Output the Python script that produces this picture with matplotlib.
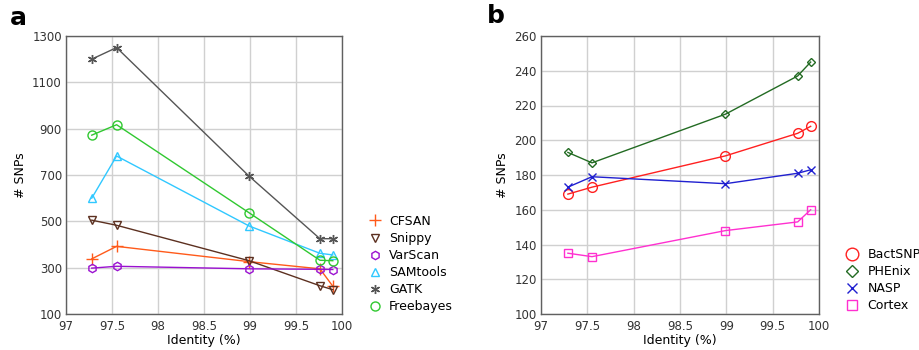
import matplotlib.pyplot as plt

identity_a = [97.28, 97.55, 98.99, 99.76, 99.90]
identity_b = [97.29, 97.55, 98.99, 99.77, 99.91]

cfsan = [338, 392, 326, 295, 220]
snippy = [505, 483, 330, 222, 205]
varscan = [298, 306, 295, 293, 292]
samtools = [600, 782, 480, 362, 355]
gatk = [1200, 1250, 695, 425, 425]
freebayes = [872, 917, 537, 332, 330]

bactsnp = [169, 173, 191, 204, 208]
phenix = [193, 187, 215, 237, 245]
nasp = [173, 179, 175, 181, 183]
cortex = [135, 133, 148, 153, 160]

names_a = ['CFSAN', 'Snippy', 'VarScan', 'SAMtools', 'GATK', 'Freebayes']
names_b = ['BactSNP', 'PHEnix', 'NASP', 'Cortex']

x_ticks = [97, 97.5, 98, 98.5, 99, 99.5, 100]
x_tick_labels = ['97', '97.5', '98', '98.5', '99', '99.5', '100']
y_ticks_a = [100, 300, 500, 700, 900, 1100, 1300]
y_ticks_b = [100, 120, 140, 160, 180, 200, 220, 240, 260]

LABEL_SIZE = 9
TICK_SIZE = 8.5


def style_axes(ax, yticks):
    ax.set_xlim(97, 100)
    ax.set_ylim(yticks[0], yticks[-1])
    ax.set_xticks(x_ticks)
    ax.set_xticklabels(x_tick_labels)
    ax.set_yticks(yticks)
    ax.grid(True, color='#d0d0d0', linewidth=1)
    ax.set_axisbelow(True)
    for sp in ax.spines.values():
        sp.set_color('#606060')
        sp.set_linewidth(1)
    ax.tick_params(length=0, labelsize=TICK_SIZE, colors='#333333')
    ax.tick_params(axis='x', pad=4)
    ax.tick_params(axis='y', pad=3)
    ax.set_xlabel('Identity (%)', fontsize=LABEL_SIZE, labelpad=1)
    ax.set_ylabel('# SNPs', fontsize=LABEL_SIZE, labelpad=4)


if __name__ == '__main__':
    fig = plt.figure(figsize=(9.2, 3.5), dpi=100)
    ax_a = fig.add_axes([66 / 920, 1 - 314 / 350, 276 / 920, 278 / 350])
    ax_b = fig.add_axes([541 / 920, 1 - 314 / 350, 278 / 920, 278 / 350])

    series_a = [cfsan, snippy, varscan, samtools, gatk, freebayes]
    colors_a = ['#ff5a1a', '#5c3020', '#9a10d0', '#30c8ff', '#555555', '#30c830']
    markers_a = ['+', 'v', 'h', '^', (6, 2, 0), 'o']
    sizes_a = [8, 5.5, 6, 5.5, 6.5, 6.5]
    for vals, c, m, s, name in zip(series_a, colors_a, markers_a, sizes_a, names_a):
        ax_a.plot(identity_a, vals, '-', color=c, marker=m, markersize=s,
                  markerfacecolor='none', markeredgecolor=c, linewidth=1,
                  markeredgewidth=1.0, label=name)
    style_axes(ax_a, y_ticks_a)
    leg_a = ax_a.legend(loc='upper left', bbox_to_anchor=(1.08, 0.375), frameon=False,
                        fontsize=LABEL_SIZE, handlelength=1, handletextpad=0.6,
                        labelspacing=0.33, borderaxespad=0)
    for h in leg_a.get_lines():
        h.set_linestyle('none')

    series_b = [bactsnp, phenix, nasp, cortex]
    colors_b = ['#ff2020', '#236b23', '#2020d0', '#ff30d0']
    markers_b = ['o', 'D', 'x', 's']
    sizes_b = [7, 4.5, 5.5, 5.5]
    for vals, c, m, s, name in zip(series_b, colors_b, markers_b, sizes_b, names_b):
        ax_b.plot(identity_b, vals, '-', color=c, marker=m, markersize=s,
                  markerfacecolor='none', markeredgecolor=c, linewidth=1,
                  markeredgewidth=1.0, label=name)
    style_axes(ax_b, y_ticks_b)
    leg_b = ax_b.legend(loc='upper left', bbox_to_anchor=(1.08, 0.255), frameon=False,
                        fontsize=LABEL_SIZE, handlelength=1, handletextpad=0.7,
                        labelspacing=0.33, borderaxespad=0, markerscale=1.3)
    for h in leg_b.get_lines():
        h.set_linestyle('none')

    fig.text(10 / 920, 1 - 18 / 350, 'a', fontsize=18, fontweight='bold', va='center')
    fig.text(487 / 920, 1 - 16 / 350, 'b', fontsize=18, fontweight='bold', va='center')

    plt.savefig('out.png', dpi=100)
    plt.close()
